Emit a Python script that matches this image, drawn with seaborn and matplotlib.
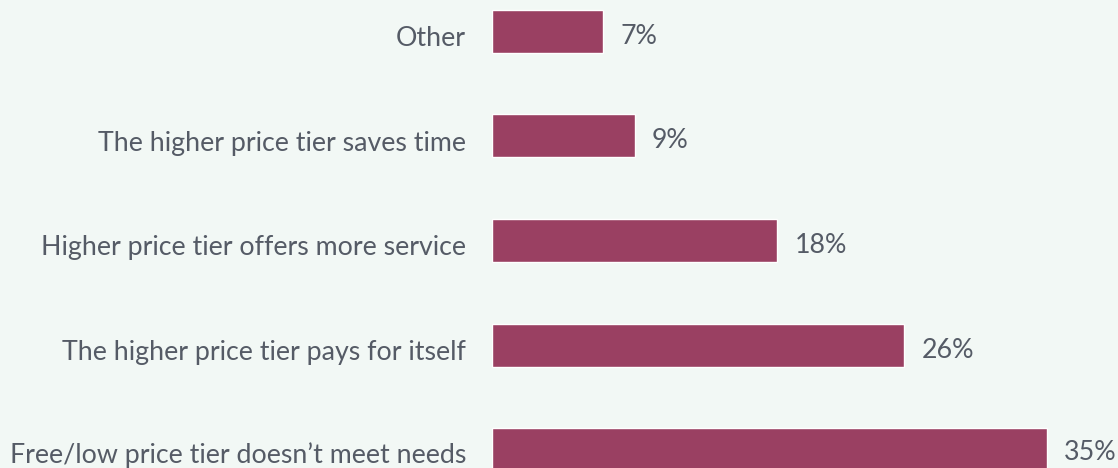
import matplotlib
matplotlib.use("Agg")
import matplotlib.pyplot as plt
import matplotlib.transforms as mtransforms
import seaborn as sns
import pandas as pd

categories = [
    "Other",
    "The higher price tier saves time",
    "Higher price tier offers more service",
    "The higher price tier pays for itself",
    "Free/low price tier doesn\u2019t meet needs",
]
values = [7, 9, 18, 26, 35]
value_labels = ["7%", "9%", "18%", "26%", "35%"]

sns.set_theme(style="white")
plt.rcParams["font.family"] = ["Lato", "DejaVu Sans"]

bg = "#f2f8f5"
bar_color = "#9a4062"
text_color = "#555b66"
fs = 19.3

df = pd.DataFrame({"category": categories, "value": values})

fig = plt.figure(figsize=(11.18, 4.68), dpi=100, facecolor=bg)
ax = fig.add_axes([492 / 1118, 0, 1 - 492 / 1118, 1])
ax.set_facecolor(bg)

pitch = 104.5
sns.barplot(data=df, x="value", y="category", orient="h", color=bar_color,
            width=43 / pitch, ax=ax, saturation=1)

px_per_unit = 555 / 35
ax.set_xlim(0, (1118 - 492) / px_per_unit)
ax.set_ylim(4 + (468 - (31.5 + 4 * pitch)) / pitch, -31.5 / pitch)

def shift_for(i):
    dy = -5 if i < 4 else -3.5
    return mtransforms.ScaledTranslation(0, dy / 100, fig.dpi_scale_trans)

for i, (v, lab) in enumerate(zip(values, value_labels)):
    t = ax.text(v + 17 / px_per_unit, i, lab, va="center", ha="left",
                fontsize=fs, color=text_color)
    t.set_transform(t.get_transform() + shift_for(i))

ax.set_xlabel("")
ax.set_ylabel("")
ax.set_xticks([])
ax.tick_params(axis="y", length=0, pad=26 * 72 / 100, labelsize=fs, labelcolor=text_color)
for i, lbl in enumerate(ax.get_yticklabels()):
    lbl.set_transform(lbl.get_transform() + shift_for(i))
for s in ax.spines.values():
    s.set_visible(False)

fig.savefig("out.png", dpi=100, facecolor=bg)
